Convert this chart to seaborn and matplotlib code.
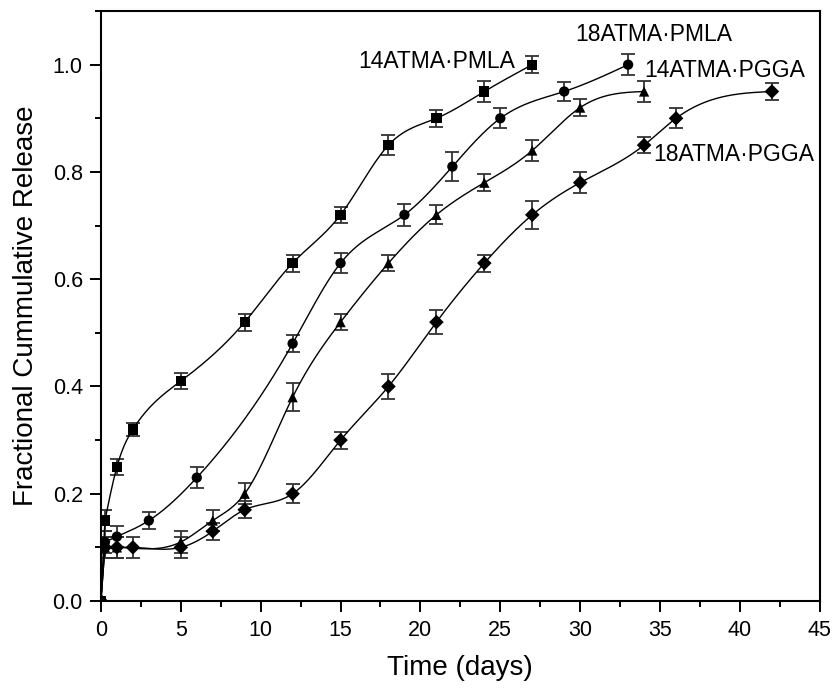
import numpy as np
import pandas as pd
import matplotlib
matplotlib.use("Agg")
import matplotlib.pyplot as plt
from matplotlib.ticker import MultipleLocator
import seaborn as sns

# Release data (days, fraction, +/- error)
days_14_pmla = [0, 0.25, 1, 2, 5, 9, 12, 15, 18, 21, 24, 27]
rel_14_pmla = [0.0, 0.15, 0.25, 0.32, 0.41, 0.52, 0.63, 0.72, 0.85, 0.90, 0.95, 1.00]
err_14_pmla = [0.0, 0.02, 0.015, 0.012, 0.015, 0.016, 0.016, 0.015, 0.018, 0.016, 0.019, 0.016]

days_18_pmla = [0, 0.25, 1, 3, 6, 12, 15, 19, 22, 25, 29, 33]
rel_18_pmla = [0.0, 0.11, 0.12, 0.15, 0.23, 0.48, 0.63, 0.72, 0.81, 0.90, 0.95, 1.00]
err_18_pmla = [0.0, 0.02, 0.02, 0.015, 0.019, 0.016, 0.019, 0.021, 0.027, 0.019, 0.017, 0.02]

days_14_pgga = [0, 0.25, 1, 5, 7, 9, 12, 15, 18, 21, 24, 27, 30, 34]
rel_14_pgga = [0.0, 0.10, 0.10, 0.11, 0.15, 0.20, 0.38, 0.52, 0.63, 0.72, 0.78, 0.84, 0.92, 0.95]
err_14_pgga = [0.0, 0.02, 0.02, 0.02, 0.019, 0.02, 0.026, 0.015, 0.015, 0.018, 0.016, 0.019, 0.016, 0.019]

days_18_pgga = [0, 0.25, 1, 2, 5, 7, 9, 12, 15, 18, 21, 24, 27, 30, 34, 36, 42]
rel_18_pgga = [0.0, 0.10, 0.10, 0.10, 0.10, 0.13, 0.17, 0.20, 0.30, 0.40, 0.52, 0.63, 0.72, 0.78, 0.85, 0.90, 0.95]
err_18_pgga = [0.0, 0.02, 0.02, 0.02, 0.02, 0.016, 0.016, 0.018, 0.016, 0.024, 0.023, 0.016, 0.026, 0.019, 0.015, 0.019, 0.016]

series_markers = {"14ATMA·PMLA": "s", "18ATMA·PMLA": "o", "14ATMA·PGGA": "^", "18ATMA·PGGA": "D"}


# Natural cubic spline through the measured points (Origin-style spline connect).
# The jump from the origin to the first sample is drawn as a straight segment.
def spline_curve(x, y, num=600):
    x0, y0 = x[0], y[0]
    x = np.asarray(x[1:], float)
    y = np.asarray(y[1:], float)
    n = len(x)
    h = np.diff(x)
    A = np.zeros((n, n))
    b = np.zeros(n)
    A[0, 0] = A[-1, -1] = 1.0
    for i in range(1, n - 1):
        A[i, i - 1] = h[i - 1]
        A[i, i] = 2 * (h[i - 1] + h[i])
        A[i, i + 1] = h[i]
        b[i] = 6 * ((y[i + 1] - y[i]) / h[i] - (y[i] - y[i - 1]) / h[i - 1])
    M = np.linalg.solve(A, b)
    xn = np.linspace(x[0], x[-1], num)
    idx = np.clip(np.searchsorted(x, xn) - 1, 0, n - 2)
    hi = h[idx]
    a = (x[idx + 1] - xn) / hi
    c = (xn - x[idx]) / hi
    yn = (a * y[idx] + c * y[idx + 1]
          + ((a**3 - a) * M[idx] + (c**3 - c) * M[idx + 1]) * hi**2 / 6)
    return np.r_[x0, xn], np.r_[y0, yn]


data = {
    "14ATMA·PMLA": (days_14_pmla, rel_14_pmla, err_14_pmla),
    "18ATMA·PMLA": (days_18_pmla, rel_18_pmla, err_18_pmla),
    "14ATMA·PGGA": (days_14_pgga, rel_14_pgga, err_14_pgga),
    "18ATMA·PGGA": (days_18_pgga, rel_18_pgga, err_18_pgga),
}

points = pd.concat(
    [pd.DataFrame({"days": d, "release": r, "err": e, "series": name}) for name, (d, r, e) in data.items()],
    ignore_index=True,
)

sns.set_style("ticks")
plt.rcParams["font.family"] = ["Liberation Sans", "DejaVu Sans"]
plt.rcParams["text.color"] = "black"
plt.rcParams["axes.labelcolor"] = "black"
plt.rcParams["xtick.color"] = "black"
plt.rcParams["ytick.color"] = "black"

fig = plt.figure(figsize=(8.34, 6.9), dpi=100)
ax = fig.add_axes([0.121, 0.129, 0.862, 0.855])

# Error bars first, so markers sit on top
for name, (d, r, e) in data.items():
    ax.errorbar(d, r, yerr=e, fmt="none", ecolor="#333333", elinewidth=1.3, capsize=4.7, capthick=1.3, zorder=2)

# Smooth connecting curves
for name, (d, r, e) in data.items():
    xs, ys = spline_curve(d, r)
    sns.lineplot(x=xs, y=ys, color="black", linewidth=1.0, ax=ax, zorder=3, sort=False)

sns.scatterplot(data=points, x="days", y="release", style="series", markers=series_markers,
                color="black", s=55, edgecolor="black", linewidth=0, legend=False, ax=ax, zorder=4)

# Series labels
ax.text(25.9, 1.006, "14ATMA·PMLA", ha="right", va="center", fontsize=16.5)
ax.text(29.7, 1.056, "18ATMA·PMLA", ha="left", va="center", fontsize=16.5)
ax.text(34.0, 0.99, "14ATMA·PGGA", ha="left", va="center", fontsize=16.5)
ax.text(34.6, 0.832, "18ATMA·PGGA", ha="left", va="center", fontsize=16.5)

ax.set_xlim(0, 45)
ax.set_ylim(0, 1.1)
ax.xaxis.set_major_locator(MultipleLocator(5))
ax.xaxis.set_minor_locator(MultipleLocator(2.5))
ax.yaxis.set_major_locator(MultipleLocator(0.2))
ax.yaxis.set_minor_locator(MultipleLocator(0.1))
ax.yaxis.set_major_formatter(plt.FormatStrFormatter("%.1f"))
ax.tick_params(which="major", direction="out", length=8, width=1.4, labelsize=15.5,
               color="black", labelcolor="black")
ax.tick_params(which="minor", direction="out", length=4.5, width=1.4, color="black")
ax.tick_params(axis="x", which="major", pad=6)
ax.tick_params(axis="y", which="major", pad=5)
ax.tick_params(top=False, right=False, which="both")

for sp in ax.spines.values():
    sp.set_visible(True)
    sp.set_linewidth(1.5)
    sp.set_color("black")

ax.set_xlabel("Time (days)", fontsize=20, labelpad=10, color="black")
ax.set_ylabel("Fractional Cummulative Release", fontsize=20, labelpad=10, color="black")

fig.savefig("out.png", dpi=100)
